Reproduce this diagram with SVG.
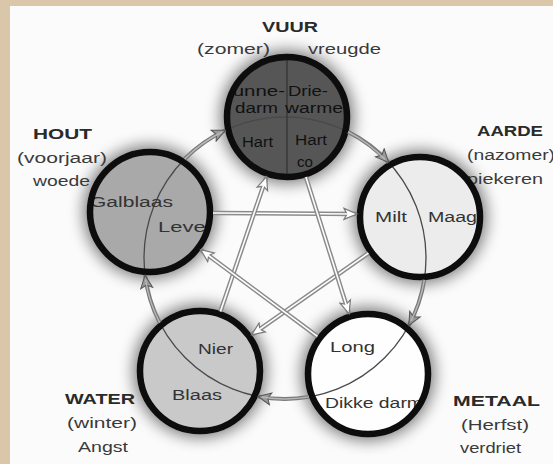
<svg xmlns="http://www.w3.org/2000/svg" width="553" height="464" viewBox="0 0 553 464">
<style>
.lbl{font-family:"Liberation Sans",Arial,sans-serif;font-size:14px;fill:#3a3a3a}
.ttl{font-family:"Liberation Sans",Arial,sans-serif;font-size:15px;font-weight:bold;fill:#2a2a2a}
.in{font-family:"Liberation Sans",Arial,sans-serif;font-size:14px;fill:#333}
.dk{fill:#111}
.ring{fill:none;stroke:#0d0d0d;stroke-width:6.5}
.big{fill:none;stroke:#4a4a4a;stroke-width:1.3}
.gen{fill:none;stroke:#7a7a7a;stroke-width:4}
.gen2{fill:none;stroke:#b8b8b8;stroke-width:1.4}
.ko{fill:none;stroke:#8a8a8a;stroke-width:4.5}
.ko2{fill:none;stroke:#ffffff;stroke-width:1.6}
</style>
<defs>
<filter id="blur" x="-30%" y="-30%" width="160%" height="160%"><feGaussianBlur stdDeviation="8"/></filter>
<marker id="ah" markerUnits="userSpaceOnUse" markerWidth="16" markerHeight="14" refX="14" refY="7" orient="auto"><path d="M1,1 L14,7 L1,13 L4,7 Z" fill="#9a9a9a" stroke="#555" stroke-width="1"/></marker>
<marker id="ak" markerUnits="userSpaceOnUse" markerWidth="16" markerHeight="14" refX="14" refY="7" orient="auto"><path d="M1,1.5 L14,7 L1,12.5 L4,7 Z" fill="#fff" stroke="#7a7a7a" stroke-width="1.2"/></marker>
<clipPath id="cV"><circle cx="287" cy="117" r="60"/></clipPath>
<clipPath id="cH"><circle cx="150" cy="212" r="60"/></clipPath>
<clipPath id="cA"><circle cx="420" cy="217" r="60"/></clipPath>
<clipPath id="cW"><circle cx="200" cy="371" r="60"/></clipPath>
<clipPath id="cM"><circle cx="368" cy="374" r="60"/></clipPath>
</defs>
<rect x="0" y="0" width="553" height="464" fill="#dac7a9"/>
<rect x="10" y="6" width="543" height="458" fill="#fbfbfb"/>
<g id="halos" filter="url(#blur)" fill="#000" opacity="0.55">
<circle cx="287" cy="117" r="66"/><circle cx="150" cy="212" r="66"/><circle cx="420" cy="217" r="66"/><circle cx="200" cy="371" r="66"/><circle cx="368" cy="374" r="66"/>
</g>
<g id="labels">
<text class="ttl" x="262" y="32" textLength="56" lengthAdjust="spacingAndGlyphs">VUUR</text>
<text class="lbl" x="197" y="54" textLength="73" lengthAdjust="spacingAndGlyphs">(zomer)</text>
<text class="lbl" x="308" y="54" textLength="73" lengthAdjust="spacingAndGlyphs">vreugde</text>
<text class="ttl" x="33" y="139" textLength="59" lengthAdjust="spacingAndGlyphs">HOUT</text>
<text class="lbl" x="17" y="163" textLength="90" lengthAdjust="spacingAndGlyphs">(voorjaar)</text>
<text class="lbl" x="33" y="186" textLength="57" lengthAdjust="spacingAndGlyphs">woede</text>
<text class="ttl" x="477" y="136" textLength="66" lengthAdjust="spacingAndGlyphs">AARDE</text>
<text class="lbl" x="467" y="160" textLength="88" lengthAdjust="spacingAndGlyphs">(nazomer)</text>
<text class="lbl" x="467" y="184" textLength="76" lengthAdjust="spacingAndGlyphs">piekeren</text>
<text class="ttl" x="65" y="404" textLength="70" lengthAdjust="spacingAndGlyphs">WATER</text>
<text class="lbl" x="67" y="428" textLength="70" lengthAdjust="spacingAndGlyphs">(winter)</text>
<text class="lbl" x="78" y="452" textLength="50" lengthAdjust="spacingAndGlyphs">Angst</text>
<text class="ttl" x="453" y="406" textLength="87" lengthAdjust="spacingAndGlyphs">METAAL</text>
<text class="lbl" x="461" y="430" textLength="68" lengthAdjust="spacingAndGlyphs">(Herfst)</text>
<text class="lbl" x="460" y="453" textLength="61" lengthAdjust="spacingAndGlyphs">verdriet</text>
</g>
<g id="fills">
<circle cx="287" cy="117" r="60" fill="#565656"/>
<circle cx="150" cy="212" r="60" fill="#a9a9a9"/>
<circle cx="420" cy="217" r="60" fill="#ececec"/>
<circle cx="200" cy="371" r="60" fill="#c9c9c9"/>
<circle cx="368" cy="374" r="60" fill="#fefefe"/>
</g>
<circle class="big" cx="285" cy="258" r="141"/>
<line x1="287" y1="57" x2="287" y2="177" stroke="#333" stroke-width="1.3"/>
<g id="vuur">
<g clip-path="url(#cV)">
<text class="in dk" x="218" y="96" textLength="67" lengthAdjust="spacingAndGlyphs">Dunne-</text>
<text class="in dk" x="288" y="96" textLength="40" lengthAdjust="spacingAndGlyphs">Drie-</text>
<text class="in dk" x="235" y="113" textLength="43" lengthAdjust="spacingAndGlyphs">darm</text>
<text class="in dk" x="285" y="113" textLength="58" lengthAdjust="spacingAndGlyphs">warme</text>
<text class="in dk" x="242" y="147" textLength="31" lengthAdjust="spacingAndGlyphs">Hart</text>
<text class="in dk" x="295" y="145" textLength="32" lengthAdjust="spacingAndGlyphs">Hart</text>
<text class="in dk" x="297" y="167" textLength="16" lengthAdjust="spacingAndGlyphs">co</text>
</g>
<circle class="ring" cx="287" cy="117" r="60"/>
</g>
<g id="hout">
<g clip-path="url(#cH)">
<text class="in" x="90" y="207" textLength="83" lengthAdjust="spacingAndGlyphs">Galblaas</text>
<text class="in" x="158" y="232" textLength="55" lengthAdjust="spacingAndGlyphs">Lever</text>
</g>
<circle class="ring" cx="150" cy="212" r="60"/>
</g>
<g id="aarde">
<text class="in" x="375" y="222" textLength="32" lengthAdjust="spacingAndGlyphs">Milt</text>
<g clip-path="url(#cA)"><text class="in" x="428" y="222" textLength="49" lengthAdjust="spacingAndGlyphs">Maag</text></g>
<circle class="ring" cx="420" cy="217" r="60"/>
</g>
<g id="water">
<text class="in" x="198" y="354" textLength="35" lengthAdjust="spacingAndGlyphs">Nier</text>
<text class="in" x="172" y="400" textLength="50" lengthAdjust="spacingAndGlyphs">Blaas</text>
<circle class="ring" cx="200" cy="371" r="60"/>
</g>
<g id="metaal">
<text class="in" x="330" y="352" textLength="45" lengthAdjust="spacingAndGlyphs">Long</text>
<g clip-path="url(#cM)"><text class="in" x="325" y="408" textLength="98" lengthAdjust="spacingAndGlyphs">Dikke darm</text></g>
<circle class="ring" cx="368" cy="374" r="60"/>
</g>
<g id="connectors">
<path class="gen" marker-end="url(#ah)" d="M184.6,159 A141,141 0 0 1 225.4,130.2"/>
<path class="gen2" d="M184.6,159 A141,141 0 0 1 222,132"/>
<path class="gen" marker-end="url(#ah)" d="M348.1,131.9 A141,141 0 0 1 388.6,162.4"/>
<path class="gen2" d="M348.1,131.9 A141,141 0 0 1 385,159.5"/>
<path class="gen" marker-end="url(#ah)" d="M424.3,279.8 A141,141 0 0 1 408.8,325.5"/>
<path class="gen2" d="M424.3,279.8 A141,141 0 0 1 411,321"/>
<path class="gen" marker-end="url(#ah)" d="M309,396.9 A141,141 0 0 1 257.9,396.4"/>
<path class="gen2" d="M309,396.9 A141,141 0 0 1 262,397"/>
<path class="gen" marker-end="url(#ah)" d="M159.7,322.7 A141,141 0 0 1 145.1,275.2"/>
<path class="gen2" d="M159.7,322.7 A141,141 0 0 1 145.5,279.5"/>
<line class="ko" marker-end="url(#ak)" x1="213" y1="213" x2="357" y2="214"/>
<line class="ko2" x1="213" y1="213" x2="350" y2="214"/>
<line class="ko" marker-end="url(#ak)" x1="368.4" y1="253.1" x2="251.6" y2="334.9"/>
<line class="ko2" x1="368.4" y1="253.1" x2="257.3" y2="330.9"/>
<line class="ko" marker-end="url(#ak)" x1="220.4" y1="311.4" x2="266.6" y2="176.6"/>
<line class="ko2" x1="220.4" y1="311.4" x2="264.3" y2="183.2"/>
<line class="ko" marker-end="url(#ak)" x1="305.9" y1="177.1" x2="349.1" y2="313.9"/>
<line class="ko2" x1="305.9" y1="177.1" x2="347" y2="307.2"/>
<line class="ko" marker-end="url(#ak)" x1="317.4" y1="336.4" x2="200.6" y2="249.6"/>
<line class="ko2" x1="317.4" y1="336.4" x2="206.2" y2="253.8"/>
</g>
</svg>
